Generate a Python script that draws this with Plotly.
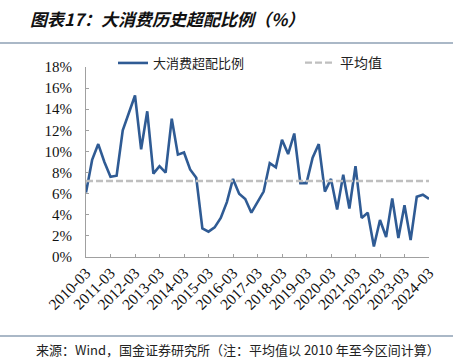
import plotly.graph_objects as go

# Quarterly periods 2010-03 .. 2024-03
periods = [f"{y}-{m:02d}" for y in range(2010, 2025) for m in (3, 6, 9, 12)][:57]

overweight = [6.1, 9.2, 10.7, 9.0, 7.6, 7.7, 12.0, 13.6, 15.3, 10.2,
              13.8, 7.9, 8.6, 8.0, 13.1, 9.7, 9.9, 8.3, 7.5, 2.7,
              2.4, 2.8, 3.7, 5.2, 7.4, 6.0, 5.5, 4.2, 5.2, 6.2,
              8.9, 8.5, 11.1, 9.75, 11.7, 7.0, 7.0, 9.4, 10.7, 6.2,
              7.4, 4.5, 7.8, 4.6, 8.6, 3.7, 4.2, 1.0, 3.5, 1.9,
              5.55, 1.8, 4.9, 1.6, 5.7, 5.9, 5.5]
avg_value = 7.2

tick_labels = [p for p in periods if p.endswith("-03")]
y_ticks = list(range(0, 19, 2))
y_ticktext = [f"{v}%" for v in y_ticks]

series_name = "大消费超配比例"
avg_name = "平均值"
title_text = "图表17：大消费历史超配比例（%）"
source_text = "来源：Wind，国金证券研究所（注：平均值以 2010 年至今区间计算）"

W, H = 462, 362
L, R, T, B = 86, 33, 67, 105
pw, ph = W - L - R, H - T - B

def px(x):
    return (x - L) / pw

def py(y):
    return (H - B - y) / ph

serif = "Liberation Serif, Times New Roman, Noto Sans CJK SC, serif"
cjk = "Noto Sans CJK SC, sans-serif"

fig = go.Figure()
fig.add_trace(go.Scatter(x=periods, y=overweight, mode="lines", name=series_name,
                         line=dict(color="#2F5B94", width=2.6), legend="legend"))
fig.add_trace(go.Scatter(x=periods, y=[avg_value] * len(periods), mode="lines", name=avg_name,
                         line=dict(color="#BFBFBF", width=2.4, dash="7px,3px"), legend="legend2"))

legend_common = dict(orientation="h", yanchor="middle", xanchor="left",
                     bgcolor="rgba(0,0,0,0)", borderwidth=0)

fig.update_layout(
    width=W, height=H,
    margin=dict(l=L, r=R, t=T, b=B, autoexpand=False),
    paper_bgcolor="white", plot_bgcolor="white",
    showlegend=True,
    legend=dict(x=px(113), y=py(63), font=dict(family=cjk, size=13, color="#222"), **legend_common),
    legend2=dict(x=px(300), y=py(63), font=dict(family=cjk, size=14, color="#222"), **legend_common),
    xaxis=dict(type="category", range=[0, len(periods) - 1], automargin=False,
               tickmode="array", tickvals=tick_labels, ticktext=tick_labels,
               tickangle=-45, ticks="inside", ticklen=3, tickcolor="#A0A0A0",
               showline=True, linecolor="#A0A0A0", linewidth=1, showgrid=False,
               tickfont=dict(family=serif, size=15.5, color="#111")),
    yaxis=dict(range=[0, 18], tickmode="array", tickvals=y_ticks, ticktext=y_ticktext,
               automargin=False,
               ticks="inside", ticklen=3, tickcolor="#A0A0A0",
               showline=True, linecolor="#A0A0A0", linewidth=1, showgrid=False,
               zeroline=False, ticklabelstandoff=10,
               tickfont=dict(family=serif, size=15, color="#111")),
    annotations=[
        dict(text=f"<b><i>{title_text}</i></b>", xref="paper", yref="paper",
             x=px(28), y=py(18), xanchor="left", yanchor="middle", showarrow=False,
             font=dict(family=cjk, size=17, color="#111")),
        dict(text=source_text, xref="paper", yref="paper",
             x=px(34), y=py(349), xanchor="left", yanchor="middle", showarrow=False,
             font=dict(family=cjk, size=13, color="#222")),
    ],
    shapes=[
        dict(type="line", xref="paper", yref="paper", x0=px(0), x1=px(453), y0=py(43), y1=py(43),
             line=dict(color="#8EA0B4", width=1.5)),
        dict(type="line", xref="paper", yref="paper", x0=px(0), x1=px(453), y0=py(336), y1=py(336),
             line=dict(color="#8EA0B4", width=1.5)),
    ],
)

fig.write_html("out.html", config={"displayModeBar": False},
               post_script="document.body.style.margin='0';document.body.style.overflow='hidden';")
